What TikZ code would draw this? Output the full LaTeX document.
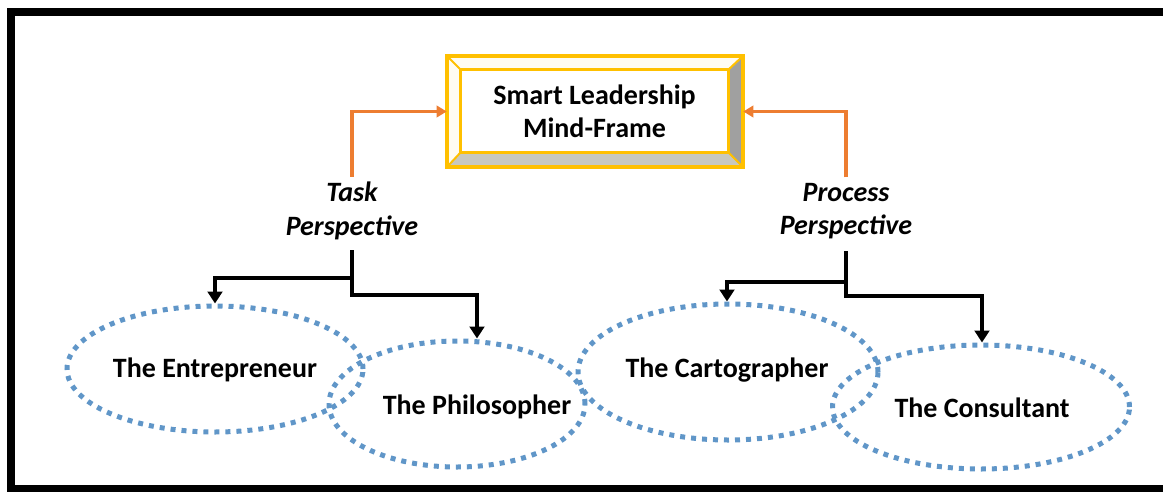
\documentclass[tikz,border=0pt]{standalone}
\usepackage{fontspec}
\setmainfont{Carlito}
\usetikzlibrary{arrows.meta,shapes.geometric,calc}

\definecolor{gold}{RGB}{255,192,0}
\definecolor{bevellight}{RGB}{255,252,242}
\definecolor{bevelgrey}{RGB}{160,160,160}
\definecolor{bevelpale}{RGB}{200,200,190}
\definecolor{feedorange}{RGB}{237,125,49}
\definecolor{dotblue}{RGB}{96,150,200}

\begin{document}
\begin{tikzpicture}[x=0.75pt,y=-0.75pt,
  role/.style 2 args={ellipse, draw=dotblue, line width=3.75pt,
    dash pattern=on 3.75pt off 4.5pt, minimum width=#1, minimum height=#2, inner sep=0pt},
  rolename/.style={font=\fontsize{21}{25}\selectfont\bfseries},
  persp/.style={align=center, inner sep=1pt, font=\fontsize{21}{25}\selectfont\bfseries\itshape},
  link/.style={line width=2.6pt, -{Triangle[width=11pt,length=9pt]}},
  feed/.style={feedorange, line width=2.4pt, -{Triangle[width=8.5pt,length=7.5pt]}}]
\useasboundingbox (0,0) rectangle (1163,492);
% black frame, its right side runs off the page
\fill (7,8) rectangle (1163,16);
\fill (7,8) rectangle (15,492);
\fill (7,485) rectangle (1163,492);

% bevelled title box
\node[minimum width=222pt, minimum height=83.25pt, inner sep=0pt] (frame) at (595,111.5) {};
\node[minimum width=200.25pt, minimum height=61.5pt, inner sep=0pt] (mind) at (594.5,111) {};
\fill[bevellight] (frame.north west) -- (frame.north east) -- (mind.north east) -- (mind.north west) -- cycle;
\fill[bevellight] (frame.north west) -- (mind.north west) -- (mind.south west) -- (frame.south west) -- cycle;
\fill[bevelgrey] (frame.north east) -- (frame.south east) -- (mind.south east) -- (mind.north east) -- cycle;
\fill[bevelpale] (frame.south west) -- (mind.south west) -- (mind.south east) -- (frame.south east) -- cycle;
\draw[gold, line width=1.5pt] (frame.north west) -- (mind.north west) (frame.north east) -- (mind.north east)
  (frame.south east) -- (mind.south east) (frame.south west) -- (mind.south west);
\draw[gold, line width=2.25pt] (mind.north west) rectangle (mind.south east);
\draw[gold, line width=3pt] (frame.north west) rectangle (frame.south east);
\node[align=center, font=\fontsize{21}{25}\selectfont\bfseries] (title) at (mind) {Smart Leadership\\Mind-Frame};

% the two perspectives
\node[persp] (task) at (352,211) {Task\\Perspective};
\node[persp] (process) at (846,211) {Process\\Perspective};
\draw[feed] ([yshift=3pt]task.north) |- (frame.west);
\draw[feed] ([yshift=3pt]process.north) |- (frame.east);

% the four roles
\node[role={222pt}{94.5pt}] (entre) at (215,369) {};
\node[role={192pt}{94.5pt}] (philo) at (457,404) {};
\node[role={225pt}{102pt}] (carto) at (728,372) {};
\node[role={222.75pt}{93pt}] (consult) at (981,407) {};
\node[rolename] (entrename) at (215,370) {The Entrepreneur};
\node[rolename] (philoname) at (477,407) {The Philosopher};
\node[rolename] (cartoname) at (727,370) {The Cartographer};
\node[rolename] (consultname) at (982,408) {The Consultant};

\coordinate (tk) at (352,250);
\coordinate (pk) at (846,251);
\draw[link] (tk) -- ++(0,28) -| (entre.north -| entrename);
\draw[link] (tk) -- ++(0,45) -| (philo.north -| philoname);
\draw[link] (pk) -- ++(0,31) -| (carto.north -| cartoname);
\draw[link] (pk) -- ++(0,45) -| (consult.north -| consultname);
\end{tikzpicture}
\end{document}
